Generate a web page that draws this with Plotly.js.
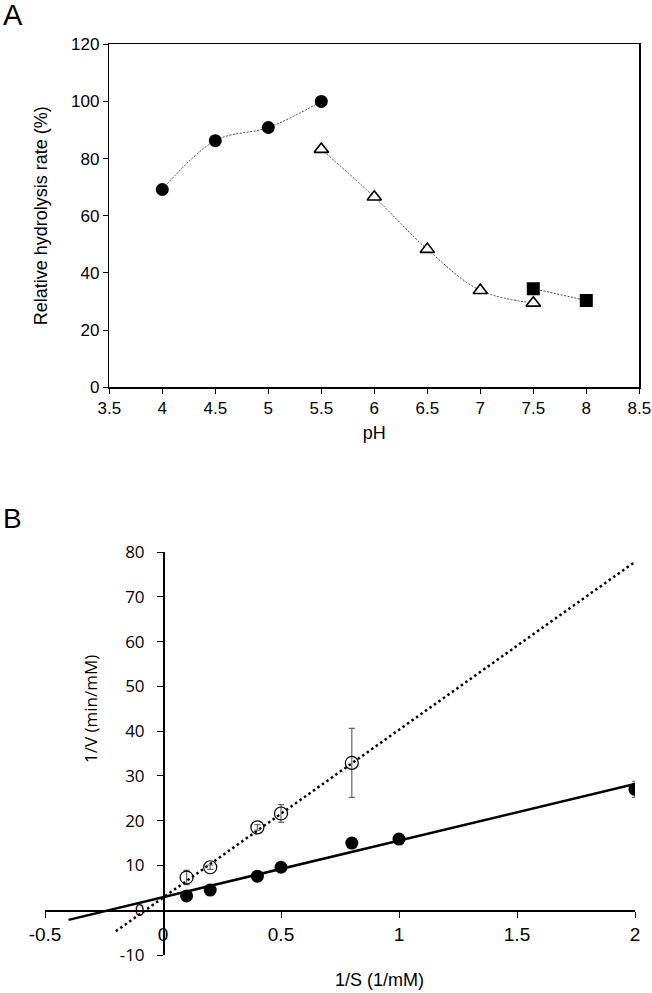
<!DOCTYPE html>
<html>
<head>
<meta charset="utf-8">
<script src="https://cdn.plot.ly/plotly-3.0.1.min.js"></script>
<style>html,body{margin:0;padding:0;background:#fff;}#chart{width:652px;height:993px;}</style>
</head>
<body>
<div id="chart"></div>
<script>
// ---------- Panel A data: pH profile ----------
const phCircleX = [4, 4.5, 5, 5.5];
const phCircleY = [69.2, 86.3, 90.9, 100];
const phTriangleX = [5.5, 6, 6.5, 7, 7.5];
const phTriangleY = [83.3, 66.6, 48.3, 33.9, 29.5];
const phSquareX = [7.5, 8];
const phSquareY = [34.5, 30.4];

// ---------- Panel B data: Lineweaver-Burk ----------
const invSOpen = [0.1, 0.2, 0.4, 0.5, 0.8];
const invVOpen = [7.3, 9.6, 18.5, 21.6, 32.9];
const invVOpenErr = [1.6, 0.5, 0.6, 2.0, 7.7];
const invSFilled = [0.1, 0.2, 0.4, 0.5, 0.8, 1, 2];
const invVFilled = [3.2, 4.5, 7.6, 9.6, 15.0, 15.9, 27.0];
const invVFilledErr = [0.4, 0.4, 0.5, 0.5, 0.6, 0.6, 1.8];
const fitSolidX = [-0.4, 2];
const fitSolidY = [-2.15, 28.2];
const fitDottedX = [-0.2, 2];
const fitDottedY = [-4.7, 77.8];

// tick labels for panel B (hyphen minus as in the original)
const bxTickVals = [-0.5, 0, 0.5, 1, 1.5, 2];
const bxTickText = ['-0.5', '0', '0.5', '1', '1.5', '2'];
const byTickVals = [-10, 0, 10, 20, 30, 40, 50, 60, 70, 80];
const byTickText = ['-10', '0', '10', '20', '30', '40', '50', '60', '70', '80'];

const W = 652, H = 993;
const ARIAL = 'Liberation Sans, Arial, sans-serif';
const CAL = 'Open Sans, sans-serif';

// domains (paper fractions)
const axDomX = [109.3 / W, 639.3 / W];
const axDomY = [1 - 387.3 / H, 1 - 44.3 / H];
const bxDomX = [45 / W, 635 / W];
const byDomY = [1 - 955 / H, 1 - 552 / H];
const bxRange = [-0.5, 2];
const byRange = [-10, 80];
// position of crossing axes at zero
const yAxis2Pos = bxDomX[0] + (0 - bxRange[0]) / (bxRange[1] - bxRange[0]) * (bxDomX[1] - bxDomX[0]);
const xAxis2Pos = byDomY[0] + (0 - byRange[0]) / (byRange[1] - byRange[0]) * (byDomY[1] - byDomY[0]);

const dashA = '2px,1.5px';

const traces = [
  {x: phCircleX, y: phCircleY, xaxis: 'x', yaxis: 'y', type: 'scatter', mode: 'lines+markers',
   line: {color: '#444', width: 1, dash: dashA, shape: 'spline', smoothing: 1},
   marker: {symbol: 'circle', size: 13, color: '#000'}},
  {x: phTriangleX, y: phTriangleY, xaxis: 'x', yaxis: 'y', type: 'scatter', mode: 'lines+markers',
   line: {color: '#444', width: 1, dash: dashA, shape: 'spline', smoothing: 1},
   marker: {symbol: 'triangle-up', size: 12.5, color: '#fff', line: {color: '#000', width: 1.6}}},
  {x: phSquareX, y: phSquareY, xaxis: 'x', yaxis: 'y', type: 'scatter', mode: 'lines+markers',
   line: {color: '#444', width: 1, dash: dashA},
   marker: {symbol: 'square', size: 13, color: '#000'}},

  {x: fitSolidX, y: fitSolidY, xaxis: 'x2', yaxis: 'y2', type: 'scatter', mode: 'lines',
   line: {color: '#000', width: 2.5}},
  {x: fitDottedX, y: fitDottedY, xaxis: 'x2', yaxis: 'y2', type: 'scatter', mode: 'lines',
   line: {color: '#000', width: 2.5, dash: '2.5px,3px'}},
  {x: invSOpen, y: invVOpen, xaxis: 'x2', yaxis: 'y2', type: 'scatter', mode: 'markers',
   marker: {symbol: 'circle-open', size: 13, color: '#000', line: {color: '#000', width: 1.2}},
   error_y: {type: 'data', array: invVOpenErr, visible: true, color: '#666', thickness: 1.2, width: 3}},
  {x: invSFilled, y: invVFilled, xaxis: 'x2', yaxis: 'y2', type: 'scatter', mode: 'markers',
   marker: {symbol: 'circle', size: 13, color: '#000'},
   error_y: {type: 'data', array: invVFilledErr, visible: true, color: '#666', thickness: 1.2, width: 3}}
];

const layout = {
  width: W, height: H,
  margin: {l: 0, r: 0, t: 0, b: 0},
  paper_bgcolor: '#fff', plot_bgcolor: '#fff',
  showlegend: false,
  font: {family: ARIAL, color: '#000'},
  xaxis: {
    domain: axDomX, range: [3.5, 8.5], tick0: 3.5, dtick: 0.5,
    ticks: 'outside', ticklen: 5, tickwidth: 1, tickcolor: '#000',
    showline: true, linecolor: '#000', linewidth: 1.5, mirror: true,
    showgrid: false, zeroline: false,
    tickfont: {family: ARIAL, size: 17, color: '#000'},
    title: {text: 'pH', font: {family: ARIAL, size: 18, color: '#000'}, standoff: 9}
  },
  yaxis: {
    domain: axDomY, range: [0, 120], tick0: 0, dtick: 20,
    ticks: 'outside', ticklen: 5, tickwidth: 1, tickcolor: '#000',
    showline: true, linecolor: '#000', linewidth: 1.5, mirror: true,
    showgrid: false, zeroline: false,
    tickfont: {family: ARIAL, size: 17, color: '#000'},
    title: {text: 'Relative hydrolysis rate (%)', font: {family: ARIAL, size: 18, color: '#000'}, standoff: 18}
  },
  xaxis2: {
    domain: bxDomX, range: bxRange, tickmode: 'array', tickvals: bxTickVals, ticktext: bxTickText,
    anchor: 'free', position: xAxis2Pos,
    ticks: 'outside', ticklen: 6, tickwidth: 1, tickcolor: '#000',
    showline: true, linecolor: '#000', linewidth: 1.5,
    showgrid: false, zeroline: false,
    tickfont: {family: ARIAL, size: 19, color: '#000'},
    ticklabelstandoff: 0
  },
  yaxis2: {
    domain: byDomY, range: byRange, tickmode: 'array', tickvals: byTickVals, ticktext: byTickText,
    anchor: 'free', position: yAxis2Pos,
    ticks: 'outside', ticklen: 6, tickwidth: 1, tickcolor: '#000',
    showline: true, linecolor: '#000', linewidth: 1.5,
    showgrid: false, zeroline: false,
    tickfont: {family: CAL, size: 17, color: '#000'},
    ticklabelstandoff: 9
  },
  annotations: [
    {text: 'A', xref: 'paper', yref: 'paper', x: 1 / W, y: 1 - 15 / H, xanchor: 'left', yanchor: 'middle',
     showarrow: false, font: {family: ARIAL, size: 29, color: '#000'}},
    {text: 'B', xref: 'paper', yref: 'paper', x: 1 / W, y: 1 - 518 / H, xanchor: 'left', yanchor: 'middle',
     showarrow: false, font: {family: ARIAL, size: 28, color: '#000'}},
    {text: '1/S (1/mM)', xref: 'paper', yref: 'paper', x: 379 / W, y: 1 - 980 / H, xanchor: 'center', yanchor: 'middle',
     showarrow: false, font: {family: ARIAL, size: 18, color: '#000'}},
    {text: '1/V (min/mM)', xref: 'paper', yref: 'paper', x: 90 / W, y: 1 - 709 / H, xanchor: 'center', yanchor: 'middle',
     textangle: -90, showarrow: false, font: {family: CAL, size: 17, color: '#000'}}
  ]
};

Plotly.newPlot('chart', traces, layout, {displayModeBar: false, staticPlot: true});
</script>
</body>
</html>
